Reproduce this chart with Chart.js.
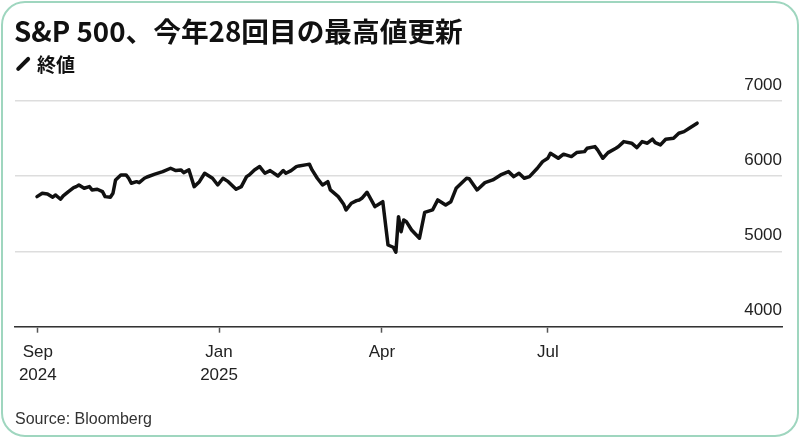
<!DOCTYPE html>
<html>
<head>
<meta charset="utf-8">
<script src="https://cdn.jsdelivr.net/npm/chart.js@4.4.1/dist/chart.umd.min.js"></script>
<style>
html, body { margin: 0; padding: 0; background: #fff; }
#wrap { position: relative; width: 800px; height: 438px; overflow: hidden; }
#frame { position: absolute; left: 1px; top: 1px; width: 794px; height: 432px; border: 2px solid #9fd6bf; border-radius: 24px; }
#title { position: absolute; left: 14px; top: 17px; font: bold 27.7px "Noto Sans CJK JP"; color: #111; white-space: nowrap; line-height: 1; }
#legend { position: absolute; left: 37px; top: 54px; font: bold 19px "Noto Sans CJK JP"; color: #111; line-height: 1; }
#legendIcon { position: absolute; left: 14px; top: 61.5px; width: 18px; height: 3.5px; background: #111; border-radius: 2px; transform: rotate(-45deg); }
#source { position: absolute; left: 15px; top: 410px; font: 16px "Liberation Sans"; color: #333; }
#usageChart { position: absolute; left: 0; top: 0; }
</style>
</head>
<body>
<div id="wrap">
    <div id="frame"></div>
    <canvas id="usageChart" width="800" height="438"></canvas>
    <div id="title">S&amp;P 500、今年28回目の最高値更新</div>
    <div id="legendIcon"></div>
    <div id="legend">終値</div>
    <div id="source">Source: Bloomberg</div>
</div>
<script>
// Trading session index (from start of Sep 2024) and S&P 500 close
const sessions = [0, 2, 4, 6, 7, 9, 10, 12, 14, 15, 16, 18, 20, 21, 23, 25, 26, 28, 29, 30,
    32, 34, 35, 36, 38, 39, 41, 42, 45, 48, 51, 53, 55, 56, 58, 60, 62, 64, 67, 69,
    71, 73, 76, 78, 80, 81, 83, 85, 87, 89, 92, 94, 95, 97, 99, 100, 103, 104, 105, 107,
    109, 111, 112, 115, 117, 118, 120, 122, 123, 124, 126, 129, 130, 132, 134, 136, 137, 138, 139, 140,
    141, 143, 146, 148, 151, 153, 156, 158, 160, 164, 165, 168, 171, 174, 177, 180, 182, 184, 186, 188,
    191, 193, 195, 196, 199, 201, 204, 206, 209, 210, 213, 214, 216, 218, 221, 222, 224, 227, 229, 231,
    233, 235, 236, 238, 240, 243, 245, 247, 249, 252];
const closes = [5729, 5774, 5765, 5721, 5751, 5694, 5738, 5795, 5848, 5862, 5884, 5840, 5862, 5818, 5827, 5795, 5729, 5721, 5774, 5951,
    6017, 6017, 5973, 5907, 5928, 5915, 5973, 5990, 6027, 6061, 6106, 6075, 6084, 6048, 6084, 5862, 5928, 6040, 5973, 5884,
    5973, 5928, 5827, 5862, 5995, 6017, 6084, 6128, 6040, 6075, 6004, 6075, 6040, 6075, 6128, 6137, 6154, 6160, 6084, 5973,
    5884, 5928, 5818, 5729, 5632, 5552, 5641, 5676, 5685, 5707, 5787, 5596, 5618, 5662, 5086, 5056, 4991, 5463, 5263, 5419,
    5396, 5286, 5176, 5519, 5552, 5685, 5618, 5662, 5840, 5973, 5968, 5818, 5915, 5951, 6017, 6061, 5995, 6040, 5973, 5995,
    6106, 6194, 6239, 6306, 6239, 6293, 6261, 6314, 6327, 6372, 6394, 6350, 6239, 6314, 6372, 6394, 6460, 6439, 6380, 6460,
    6439, 6492, 6447, 6416, 6492, 6505, 6572, 6593, 6638, 6705];

// x-axis month ticks (session positions) and their labels
const tickSessions = [0.3, 69.5, 131.7, 195];
const tickLabels = [['Sep', '2024'], ['Jan', '2025'], 'Apr', 'Jul'];

// y-axis
const yTicks = [4000, 5000, 6000, 7000];

const ctx = document.getElementById('usageChart').getContext('2d');
const spxChart = new Chart(ctx, {
    type: 'line',
    data: {
        datasets: [
            {
                label: '終値',
                data: sessions.map((s, i) => ({ x: s, y: closes[i] })),
                borderColor: '#111',
                borderWidth: 3.5,
                pointRadius: 0,
                tension: 0,
                borderJoinStyle: 'round',
                borderCapStyle: 'round',
                fill: false,
            },
        ],
    },
    options: {
        responsive: false,
        animation: false,
        devicePixelRatio: 1,
        layout: {
            padding: { left: 15, right: 18, top: 101, bottom: 46.3 },
        },
        plugins: {
            legend: { display: false },
            tooltip: { enabled: false },
        },
        scales: {
            x: {
                type: 'linear',
                min: -8.4,
                max: 284.4,
                afterFit: (scale) => { scale.height = 65; },
                afterBuildTicks: (scale) => { scale.ticks = tickSessions.map(v => ({ value: v })); },
                grid: {
                    drawOnChartArea: false,
                    drawTicks: true,
                    tickLength: 6,
                    tickColor: '#555',
                    tickWidth: 1.5,
                },
                border: { display: true, color: '#333', width: 1.5 },
                ticks: {
                    autoSkip: false,
                    maxRotation: 0,
                    padding: 9,
                    color: '#222',
                    font: { family: 'Liberation Sans', size: 17, lineHeight: 1.3 },
                    callback: (value, index) => tickLabels[index],
                },
            },
            y: {
                position: 'right',
                min: 4000,
                max: 7000,
                afterFit: (scale) => { scale.width = 0; },
                afterBuildTicks: (scale) => { scale.ticks = yTicks.map(v => ({ value: v })); },
                grid: {
                    color: '#dddddd',
                    lineWidth: 1.5,
                    drawTicks: false,
                },
                border: { display: false },
                ticks: {
                    mirror: true,
                    padding: 0,
                    labelOffset: -16,
                    color: '#222',
                    font: { family: 'Liberation Sans', size: 17 },
                    callback: (value) => String(value),
                },
            },
        },
    },
});
</script>
</body>
</html>
